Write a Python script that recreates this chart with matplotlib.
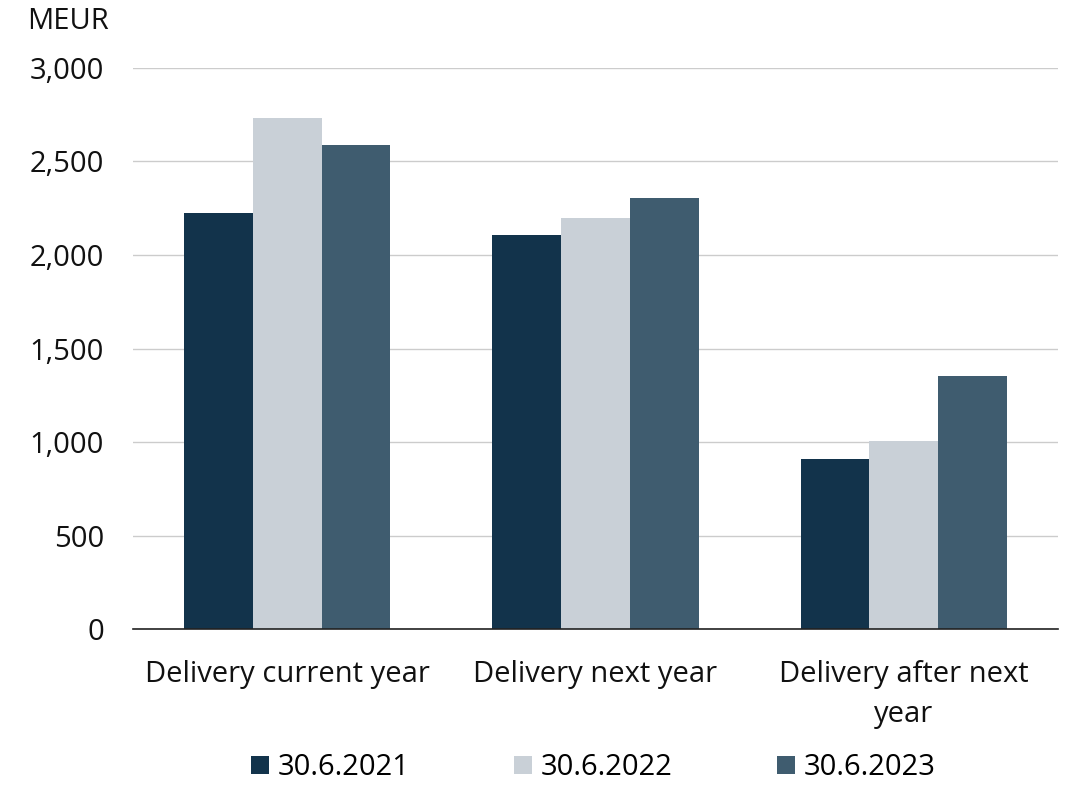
import numpy as np
import matplotlib.pyplot as plt
from matplotlib.patches import Patch

plt.rcParams['font.family'] = ['Open Sans', 'DejaVu Sans']

categories = ['Delivery current year', 'Delivery next year', 'Delivery after next\nyear']
series = ['30.6.2021', '30.6.2022', '30.6.2023']
values = {
    '30.6.2021': [2223, 2107, 907],
    '30.6.2022': [2731, 2196, 1005],
    '30.6.2023': [2588, 2305, 1353],
}
colors = ['#12334b', '#c9d0d7', '#3f5c6f']
yticks = [0, 500, 1000, 1500, 2000, 2500, 3000]

fig = plt.figure(figsize=(10.69, 7.85), dpi=100)
ax = fig.add_axes([0.1244, 0.1987, 0.8653, 0.7147])

x = np.arange(len(categories))
w = 0.223
for i, s in enumerate(series):
    ax.bar(x + (i - 1) * w, values[s], width=w, color=colors[i], zorder=3)

ax.set_xlim(-0.5, 2.5)
ax.set_ylim(0, 3000)
ax.set_yticks(yticks)
ax.set_yticklabels([f'{v:,}' for v in yticks])
ax.set_xticks(x)
ax.set_xticklabels(categories, linespacing=1.5)
ax.grid(axis='y', color='#cccccc', linewidth=1, zorder=0)
for sp in ['top', 'right', 'left']:
    ax.spines[sp].set_visible(False)
ax.spines['bottom'].set_color('#222222')
ax.spines['bottom'].set_linewidth(1.2)
ax.spines['bottom'].set_zorder(4)
ax.tick_params(axis='both', length=0, labelsize=21, colors='#111111')
ax.tick_params(axis='y', pad=21)
ax.tick_params(axis='x', pad=22)

fig.text(0.025, 0.972, 'MEUR', fontsize=21, color='#111111', va='center')

handles = [Patch(facecolor=c, label=s) for c, s in zip(colors, series)]
fig.legend(handles=handles, loc='center', bbox_to_anchor=(0.555, 0.022), ncol=3,
           frameon=False, fontsize=21, handlelength=0.6, handleheight=0.6,
           handletextpad=0.3, columnspacing=3.6)

fig.savefig('out.png', dpi=100)
